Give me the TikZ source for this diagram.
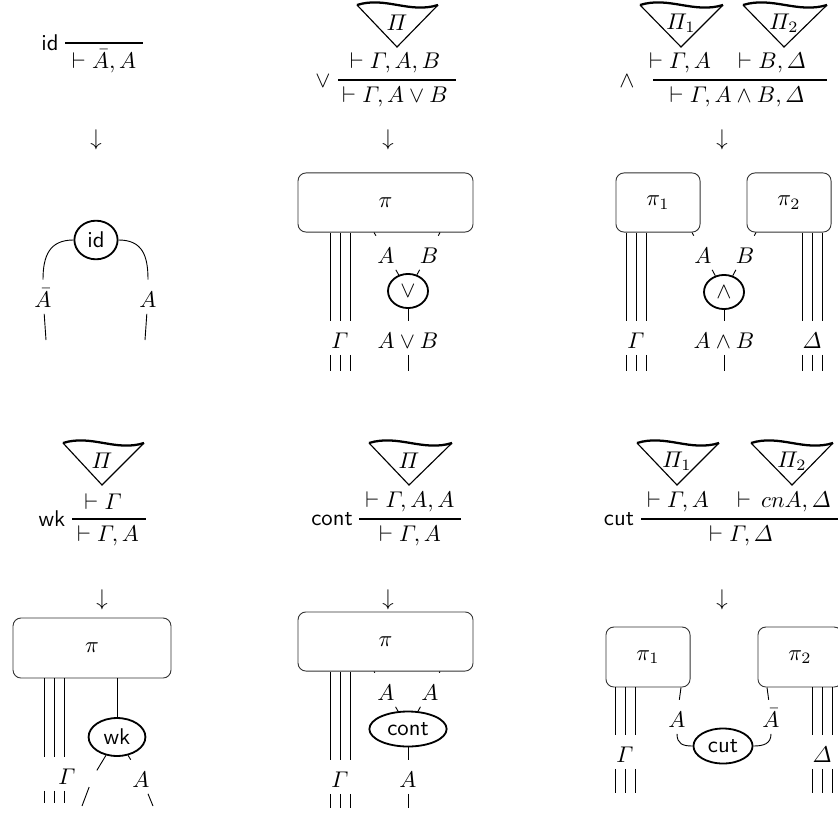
\documentclass[tikz,border=0pt]{standalone}
\usepackage{amsmath}
\usetikzlibrary{shapes.geometric,calc}
\newcommand\ptri[5]{%
  \draw[tri] (#1,#4) -- (#3,#4+42) -- (#2,#4);
  \draw[wavy] (#1,#4) .. controls ({#1+0.35*(#2-#1)},{#4-9}) and ({#1+0.65*(#2-#1)},{#4+9}) .. (#2,#4);
  \node[txt] at (#3,#4+18) {$#5$};}
\newcommand\gwires[4]{%
  \foreach \xo in {#3} {%
    \draw[wire] (#2.north) ++(\xo,0) coordinate (t) -- (t |- #1.south);
    \draw[wire] (#2.south) ++(\xo,0) -- ++(0,#4);}}
\begin{document}
\begin{tikzpicture}[x=0.44pt,y=-0.44pt,
  lab/.style={inner xsep=1.5pt,inner ysep=2.8pt,text height=9pt,text depth=0pt,anchor=base},
  txt/.style={inner sep=0pt},
  pbox/.style={draw=black!80,line width=0.4pt,rounded corners=3.5pt,minimum height=26pt},
  gate/.style={draw,ellipse,line width=0.8pt,inner sep=0pt,font=\sffamily},
  wire/.style={line width=0.4pt},
  infer/.style={line width=0.9pt},
  wavy/.style={line width=1pt},
  tri/.style={line width=0.5pt},
]
\clip (0,0) rectangle (838,815);

% ---------------- panel 1 : id
\node[txt,font=\sffamily] (r1) at (50,43) {id};
\draw[infer] (65,43) -- (143,43);
\node[txt] (c1) at (104,61) {$\vdash \bar A, A$};
\node (ar1) at (96,140) {$\downarrow$};
\node[gate,minimum width=19pt,minimum height=17pt] (gid) at (96,240) {id};
\node[lab] (l1a) at (43,307) {$\bar A$};
\node[lab] (l1b) at (148,307) {$A$};
\draw[wire] (gid.west) .. controls +(-24,0) and +(0,-24) .. (l1a.north);
\draw[wire] (gid.east) .. controls +(24,0) and +(0,-24) .. (l1b.north);
\coordinate (e1a) at (46,340);
\coordinate (e1b) at (145,340);
\draw[wire] (l1a) -- (e1a);
\draw[wire] (l1b) -- (e1b);

% ---------------- panel 2 : or
\ptri{357}{438}{397}{5}{\varPi}
\node[txt] (r2) at (323,81) {$\vee$};
\node[txt] (p2) at (395,63) {$\vdash \varGamma, A, B$};
\draw[infer] (338,80) -- (456,80);
\node[txt] (c2) at (395,97) {$\vdash \varGamma, A \vee B$};
\node (ar2) at (388,140) {$\downarrow$};
\node[pbox,minimum width=77pt] (b2) at (385.5,202.5) {$\pi$};
\node[lab] (g2) at (340,348) {$\varGamma$};
\gwires{b2}{g2}{-10,0,10}{16}
\node[lab] (a2) at (386,263) {$A$};
\node[lab] (bb2) at (429,263) {$B$};
\node[gate,minimum width=17.6pt,minimum height=15pt] (or2) at (408,291) {$\vee$};
\node[lab] (o2) at (408,348) {$A \vee B$};
\draw[wire] ($(b2.south)+(-11.5,0)$) -- (a2);
\draw[wire] ($(b2.south)+(54.5,0)$) -- (bb2);
\draw[wire] (a2) -- (or2);
\draw[wire] (bb2) -- (or2);
\draw[wire] (or2) -- (o2);
\coordinate (e2) at (408,371);
\draw[wire] (o2) -- (e2);

% ---------------- panel 3 : and
\ptri{640}{723}{681}{5}{\varPi_1}
\ptri{743}{827}{784}{5}{\varPi_2}
\node[txt] (r3) at (627,81) {$\wedge$};
\node[txt] (p3a) at (680,63) {$\vdash \varGamma, A$};
\node[txt] (p3b) at (772,63) {$\vdash B, \varDelta$};
\draw[infer] (653,80) -- (827,80);
\node[txt] (c3) at (737,97) {$\vdash \varGamma, A \wedge B, \varDelta$};
\node (ar3) at (722,140) {$\downarrow$};
\node[pbox,minimum width=37pt] (b3a) at (658,202.5) {$\pi_1$};
\node[pbox,minimum width=37pt] (b3b) at (789,202.5) {$\pi_2$};
\node[lab] (g3) at (636,348) {$\varGamma$};
\node[lab] (d3) at (812,348) {$\varDelta$};
\gwires{b3a}{g3}{-10,0,10}{16}
\gwires{b3b}{d3}{-10,0,10}{16}
\node[lab] (a3) at (703,263) {$A$};
\node[lab] (bb3) at (745,263) {$B$};
\node[gate,minimum width=17.6pt,minimum height=15pt] (and3) at (724,292) {$\wedge$};
\node[lab] (o3) at (724,348) {$A \wedge B$};
\draw[wire] ($(b3a.south)+(34,0)$) -- (a3);
\draw[wire] ($(b3b.south)+(-33,0)$) -- (bb3);
\draw[wire] (a3) -- (and3);
\draw[wire] (bb3) -- (and3);
\draw[wire] (and3) -- (o3);
\coordinate (e3) at (724,371);
\draw[wire] (o3) -- (e3);

% ---------------- panel 4 : wk
\ptri{63}{144}{102}{443}{\varPi}
\node[txt,font=\sffamily] (r4) at (52,519) {wk};
\node[txt] (p4) at (103,502) {$\vdash \varGamma$};
\draw[infer] (72,519) -- (146,519);
\node[txt] (c4) at (108,536) {$\vdash \varGamma, A$};
\node (ar4) at (102,600) {$\downarrow$};
\node[pbox,minimum width=69.5pt,minimum height=26.4pt] (b4) at (92,648) {$\pi$};
\node[lab] (g4) at (67,784) {$\varGamma$};
\gwires{b4}{g4}{-23,-13,-3}{12}
\node[gate,minimum width=25pt,minimum height=16.7pt] (wk4) at (117,737) {wk};
\draw[wire] (wk4.north |- b4.south) -- (wk4.north);
\node[lab] (h4) at (93,787) {};
\node[lab] (a4) at (141,787) {$A$};
\draw[wire] (wk4) -- (h4);
\draw[wire] (wk4) -- (a4);
\coordinate (e4a) at (82,806);
\coordinate (e4b) at (153,806);
\draw[wire] (h4) -- (e4a);
\draw[wire] (a4) -- (e4b);

% ---------------- panel 5 : cont
\ptri{369}{452}{409}{443}{\varPi}
\node[txt,font=\sffamily] (r5) at (332,519) {cont};
\node[txt] (p5) at (410,502) {$\vdash \varGamma, A, A$};
\draw[infer] (359,519) -- (461,519);
\node[txt] (c5) at (410,536) {$\vdash \varGamma, A$};
\node (ar5) at (388,600) {$\downarrow$};
\node[pbox,minimum width=77pt] (b5) at (385.5,641.5) {$\pi$};
\node[lab] (g5) at (340,787) {$\varGamma$};
\gwires{b5}{g5}{-10,0,10}{14}
\node[lab] (a5) at (386,700) {$A$};
\node[lab] (bb5) at (430,700) {$A$};
\node[gate,minimum width=34pt,minimum height=15.4pt] (ct5) at (408,729) {cont};
\node[lab] (o5) at (408,787) {$A$};
\draw[wire] ($(b5.south)+(-11.5,0)$) -- (a5);
\draw[wire] ($(b5.south)+(54.5,0)$) -- (bb5);
\draw[wire] (a5) -- (ct5);
\draw[wire] (bb5) -- (ct5);
\draw[wire] (ct5) -- (o5);
\coordinate (e5) at (408,808);
\draw[wire] (o5) -- (e5);

% ---------------- panel 6 : cut
\ptri{637}{719}{677}{443}{\varPi_1}
\ptri{751}{833}{792}{443}{\varPi_2}
\node[txt,font=\sffamily] (r6) at (619,519) {cut};
\node[txt] (p6a) at (678,502) {$\vdash \varGamma, A$};
\node[txt] (p6b) at (784,502) {$\vdash\, cnA, \varDelta$};
\draw[infer] (641,519) -- (845,519);
\node[txt] (c6) at (741,536) {$\vdash \varGamma, \varDelta$};
\node (ar6) at (722,600) {$\downarrow$};
\node[pbox,minimum width=37pt,minimum height=26.4pt] (b6a) at (648,657) {$\pi_1$};
\node[pbox,minimum width=37pt,minimum height=26.4pt] (b6b) at (800,657) {$\pi_2$};
\node[lab] (g6) at (625,762) {$\varGamma$};
\node[lab] (d6) at (822,762) {$\varDelta$};
\gwires{b6a}{g6}{-10,0,10}{24}
\gwires{b6b}{d6}{-10,0,10}{24}
\node[lab] (a6) at (677,727) {$A$};
\node[lab] (bb6) at (771,727) {$\bar A$};
\node[gate,minimum width=26pt,minimum height=15.4pt] (cut6) at (723,746) {cut};
\draw[wire] ($(b6a.south)+(33,0)$) -- (a6);
\draw[wire] ($(b6b.south)+(-33,0)$) -- (bb6);
\draw[wire] (a6.south) .. controls +(0,10) and +(-10,0) .. (cut6.west);
\draw[wire] (bb6.south) .. controls +(0,10) and +(10,0) .. (cut6.east);
\end{tikzpicture}
\end{document}
